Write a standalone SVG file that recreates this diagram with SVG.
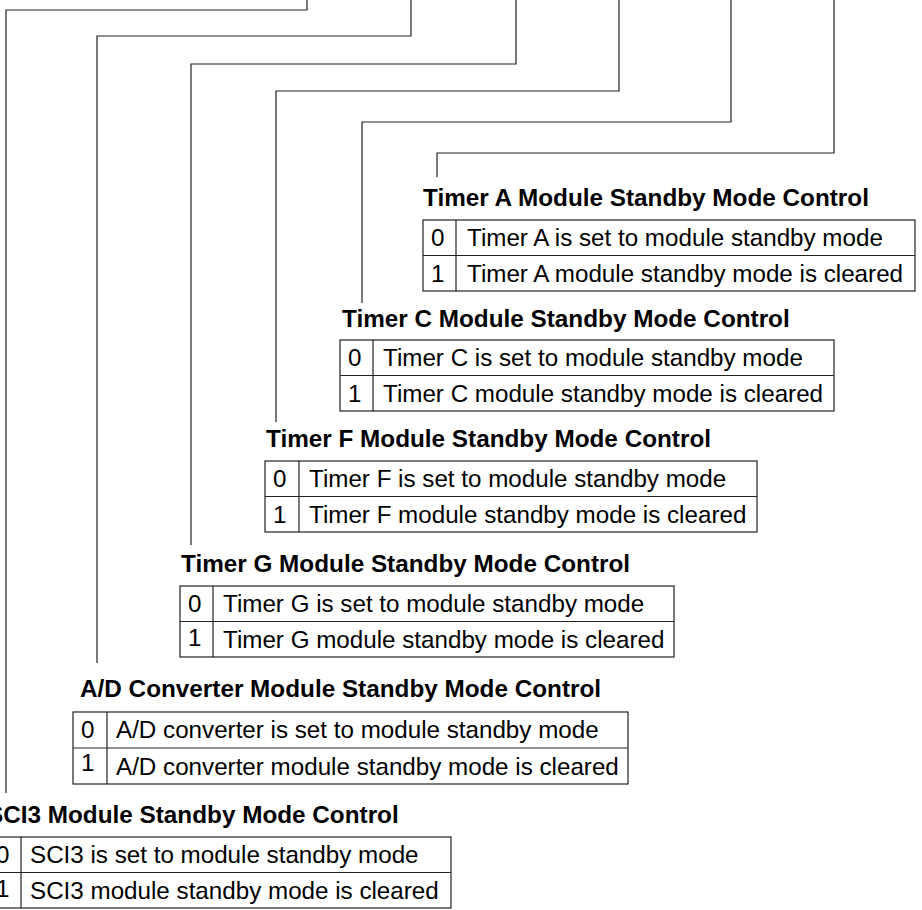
<svg xmlns="http://www.w3.org/2000/svg" width="922" height="910" viewBox="0 0 922 910">
<style>
.ln{fill:none;stroke:#222;stroke-width:1.2}
.tb{fill:#fff;stroke:#222;stroke-width:1.2}
.h{font-family:"Liberation Sans",Arial,sans-serif;font-weight:bold;font-size:24.3px;fill:#000}
.t{font-family:"Liberation Sans",Arial,sans-serif;font-size:24.2px;fill:#000}
</style>
<rect width="922" height="910" fill="#fff"/>
<g id="connectors">
<polyline class="ln" points="307,0 307,10 6,10 6,793"/>
<polyline class="ln" points="411,0 411,36 97,36 97,663"/>
<polyline class="ln" points="516,0 516,64 191,64 191,545"/>
<polyline class="ln" points="619,0 619,91 276,91 276,422"/>
<polyline class="ln" points="731,0 731,122 362,122 362,303"/>
<polyline class="ln" points="834,0 834,153 437,153 437,177"/>
</g>
<g id="timerA">
<text class="h" x="423" y="206">Timer A Module Standby Mode Control</text>
<rect class="tb" x="423" y="220" width="492" height="71"/>
<line class="ln" x1="423" y1="255.5" x2="915" y2="255.5"/>
<line class="ln" x1="456" y1="220" x2="456" y2="291"/>
<text class="t" x="431" y="246">0</text>
<text class="t" x="467" y="246">Timer A is set to module standby mode</text>
<text class="t" x="431" y="282">1</text>
<text class="t" x="467" y="282">Timer A module standby mode is cleared</text>
</g>
<g id="timerC">
<text class="h" x="342" y="327">Timer C Module Standby Mode Control</text>
<rect class="tb" x="340" y="340" width="494" height="71"/>
<line class="ln" x1="340" y1="375.5" x2="834" y2="375.5"/>
<line class="ln" x1="373" y1="340" x2="373" y2="411"/>
<text class="t" x="348" y="366">0</text>
<text class="t" x="383" y="366">Timer C is set to module standby mode</text>
<text class="t" x="348" y="402">1</text>
<text class="t" x="383" y="402">Timer C module standby mode is cleared</text>
</g>
<g id="timerF">
<text class="h" x="266" y="447">Timer F Module Standby Mode Control</text>
<rect class="tb" x="265" y="461" width="492" height="71"/>
<line class="ln" x1="265" y1="496.5" x2="757" y2="496.5"/>
<line class="ln" x1="299" y1="461" x2="299" y2="532"/>
<text class="t" x="273" y="487">0</text>
<text class="t" x="309" y="487">Timer F is set to module standby mode</text>
<text class="t" x="273" y="523">1</text>
<text class="t" x="309" y="523">Timer F module standby mode is cleared</text>
</g>
<g id="timerG">
<text class="h" x="181" y="572">Timer G Module Standby Mode Control</text>
<rect class="tb" x="180" y="586" width="494" height="71"/>
<line class="ln" x1="180" y1="621.5" x2="674" y2="621.5"/>
<line class="ln" x1="213" y1="586" x2="213" y2="657"/>
<text class="t" x="188" y="612">0</text>
<text class="t" x="223" y="612">Timer G is set to module standby mode</text>
<text class="t" x="188" y="646">1</text>
<text class="t" x="223" y="648">Timer G module standby mode is cleared</text>
</g>
<g id="adConverter">
<text class="h" x="80" y="697">A/D Converter Module Standby Mode Control</text>
<rect class="tb" x="73" y="712" width="555" height="72"/>
<line class="ln" x1="73" y1="748" x2="628" y2="748"/>
<line class="ln" x1="107" y1="712" x2="107" y2="784"/>
<text class="t" x="81" y="738">0</text>
<text class="t" x="116" y="738">A/D converter is set to module standby mode</text>
<text class="t" x="81" y="771">1</text>
<text class="t" x="116" y="775">A/D converter module standby mode is cleared</text>
</g>
<g id="sci3">
<text class="h" x="-13" y="823">SCI3 Module Standby Mode Control</text>
<rect class="tb" x="-12" y="837" width="463" height="71"/>
<line class="ln" x1="-12" y1="872.5" x2="451" y2="872.5"/>
<line class="ln" x1="21" y1="837" x2="21" y2="908"/>
<text class="t" x="-4" y="863">0</text>
<text class="t" x="30" y="863">SCI3 is set to module standby mode</text>
<text class="t" x="-4" y="897">1</text>
<text class="t" x="30" y="899">SCI3 module standby mode is cleared</text>
</g>
</svg>
